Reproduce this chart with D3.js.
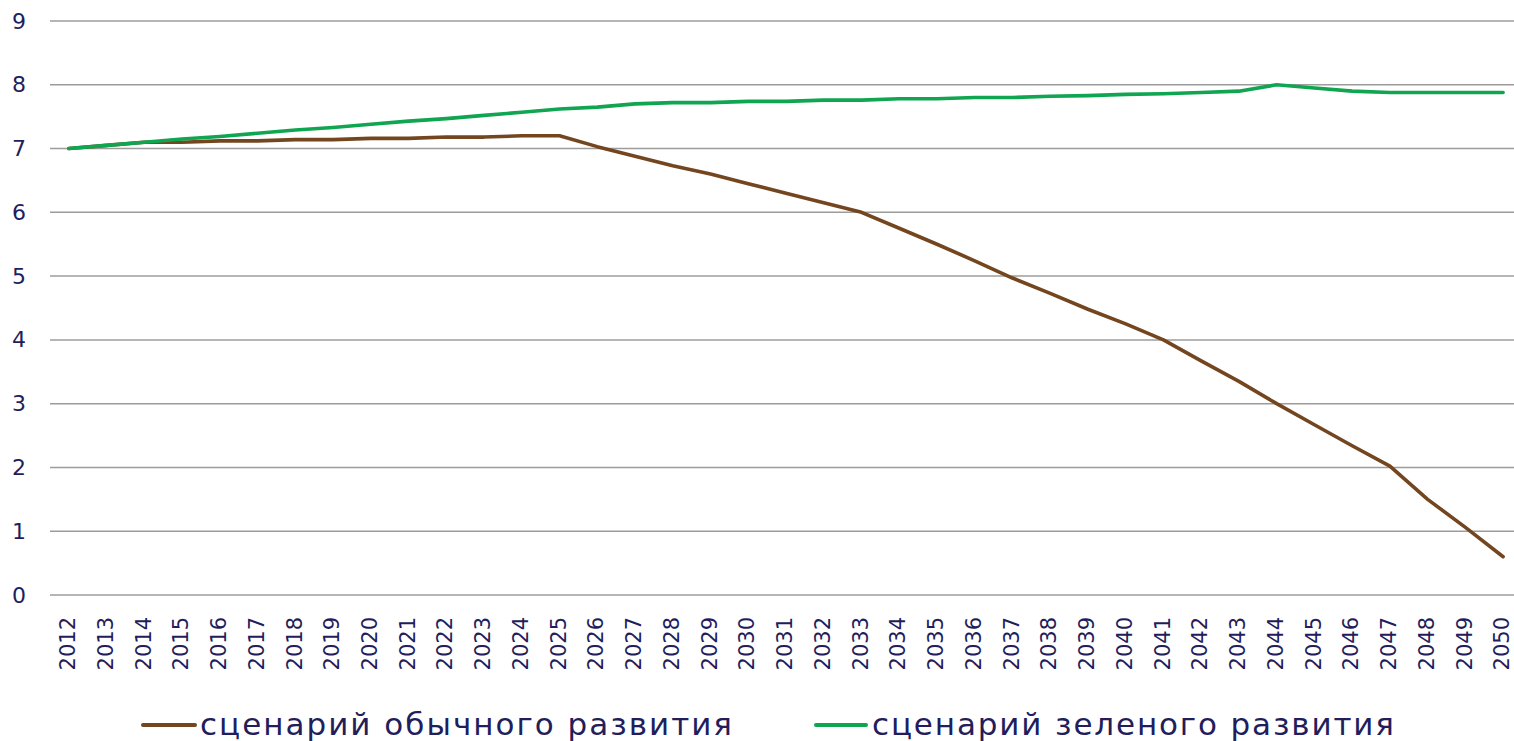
<!DOCTYPE html>
<html>
<head>
<meta charset="utf-8">
<script src="https://cdn.jsdelivr.net/npm/d3@7"></script>
<style>
  body { margin: 0; background: #fff; }
  svg text { font-family: "DejaVu Sans", Verdana, sans-serif; fill: #231d5c; }
</style>
</head>
<body>
<svg id="chart" width="1514" height="741"></svg>
<script>
const years = d3.range(2012, 2051).map(String);

const usualScenario = [
  7.0, 7.05, 7.1, 7.1, 7.12, 7.12, 7.14, 7.14, 7.16, 7.16,
  7.18, 7.18, 7.2, 7.2, 7.03, 6.88, 6.73, 6.6, 6.45, 6.3,
  6.15, 6.0, 5.75, 5.5, 5.24, 4.97, 4.73, 4.48, 4.25, 4.0,
  3.67, 3.35, 3.0, 2.67, 2.34, 2.02, 1.5, 1.06, 0.6
];

const greenScenario = [
  7.0, 7.05, 7.1, 7.15, 7.19, 7.24, 7.29, 7.33, 7.38, 7.43,
  7.47, 7.52, 7.57, 7.62, 7.65, 7.7, 7.72, 7.72, 7.74, 7.74,
  7.76, 7.76, 7.78, 7.78, 7.8, 7.8, 7.82, 7.83, 7.85, 7.86,
  7.88, 7.9, 8.0, 7.95, 7.9, 7.88, 7.88, 7.88, 7.88
];

const yTicks = [0, 1, 2, 3, 4, 5, 6, 7, 8, 9];

const seriesNames = ["сценарий обычного развития", "сценарий зеленого развития"];
const seriesColors = ["#734620", "#10a550"];

const svg = d3.select("#chart");

const x = d3.scalePoint().domain(years).range([50, 1522]).padding(0.5);
const y = d3.scaleLinear().domain([0, 9]).range([595, 21]);

// grid
svg.append("g")
  .attr("class", "grid")
  .selectAll("line")
  .data(yTicks)
  .join("line")
  .attr("x1", 50)
  .attr("x2", 1514)
  .attr("y1", d => y(d))
  .attr("y2", d => y(d))
  .attr("stroke", "#9c9c9c")
  .attr("stroke-width", 1.5);

// y axis labels
const yAxis = d3.axisLeft(y).tickValues(yTicks).tickSize(0).tickPadding(0);
svg.append("g")
  .attr("transform", "translate(19,0)")
  .call(yAxis)
  .call(g => g.select(".domain").remove())
  .call(g => g.selectAll("text")
    .attr("text-anchor", "middle")
    .attr("font-size", 22)
    .attr("fill", "#231d5c"));

// x axis labels
const xAxis = d3.axisBottom(x).tickSize(0).tickPadding(0);
svg.append("g")
  .attr("transform", "translate(0,617)")
  .call(xAxis)
  .call(g => g.select(".domain").remove())
  .call(g => g.selectAll("text")
    .attr("font-size", 21)
    .attr("fill", "#231d5c")
    .attr("text-anchor", "end")
    .attr("transform", "rotate(-90)")
    .attr("x", 0)
    .attr("y", 0)
    .attr("dy", "0.27em"));

// lines
const line = d3.line()
  .x((d, i) => x(years[i]))
  .y(d => y(d));

[usualScenario, greenScenario].forEach((values, i) => {
  svg.append("path")
    .attr("d", line(values))
    .attr("fill", "none")
    .attr("stroke", seriesColors[i])
    .attr("stroke-width", 3.6)
    .attr("stroke-linejoin", "round")
    .attr("stroke-linecap", "round");
});

// legend
const legendItems = [
  { x1: 143, x2: 195, tx: 200, len: 532 },
  { x1: 816, x2: 866, tx: 872, len: 522 }
];

const legend = svg.append("g").attr("class", "legend");
legendItems.forEach((item, i) => {
  legend.append("line")
    .attr("x1", item.x1)
    .attr("x2", item.x2)
    .attr("y1", 725)
    .attr("y2", 725)
    .attr("stroke", seriesColors[i])
    .attr("stroke-width", 4)
    .attr("stroke-linecap", "round");
  legend.append("text")
    .attr("x", item.tx)
    .attr("y", 735)
    .attr("font-size", 31)
    .attr("textLength", item.len)
    .attr("lengthAdjust", "spacing")
    .text(seriesNames[i]);
});
</script>
</body>
</html>
